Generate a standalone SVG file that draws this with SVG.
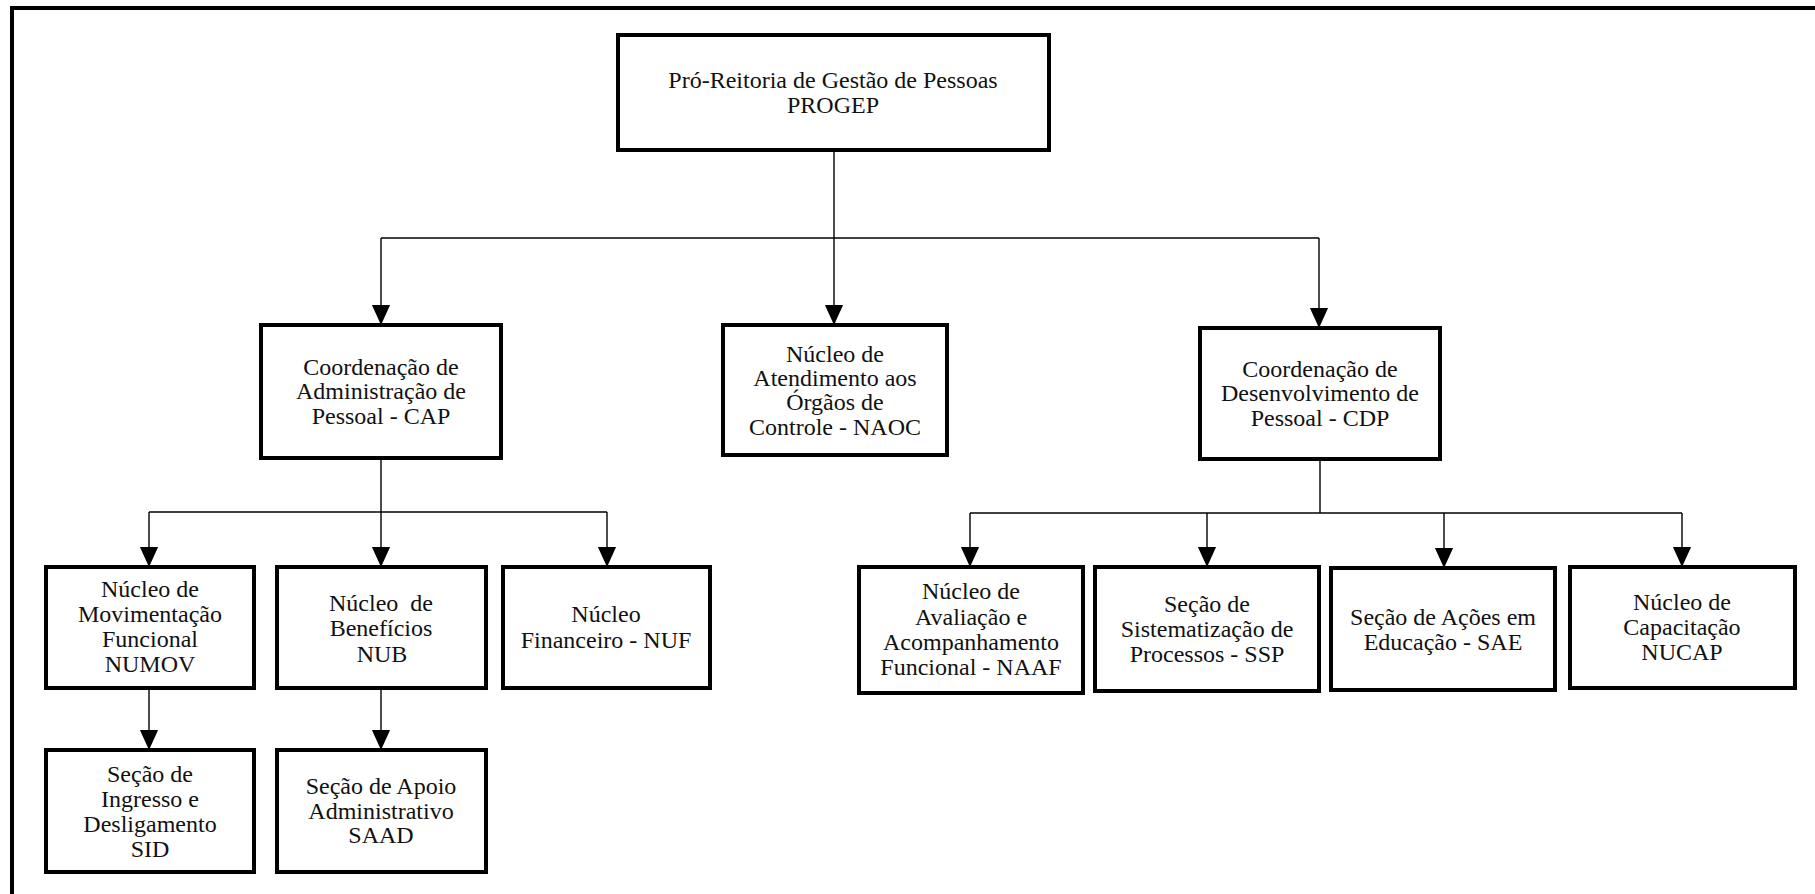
<svg xmlns="http://www.w3.org/2000/svg" width="1815" height="894" viewBox="0 0 1815 894">
<defs>
<marker id="arr" markerUnits="userSpaceOnUse" markerWidth="20" markerHeight="22" refX="22" refY="10" orient="auto" viewBox="0 0 22 20">
<path d="M0,0 L22,10 L0,20 Z" fill="#000"/>
</marker>
<style>
.box{fill:#fff;stroke:#000;stroke-width:4}
.t{font-family:'Liberation Serif','DejaVu Serif',serif;font-size:24px;fill:#111;text-anchor:middle}
.c{fill:none;stroke:#000;stroke-width:1.4}
.frame{stroke:#000;stroke-width:4;fill:none}
</style>
</defs>
<rect width="1815" height="894" fill="#fff"/>
<path class="frame" d="M12,894 L12,8 L1815,8"/>

<g id="connectors">
<path class="c" d="M834,150 L834,238"/>
<path class="c" d="M381,238 L1319,238"/>
<path class="c" d="M381,238 L381,325" marker-end="url(#arr)"/>
<path class="c" d="M834,238 L834,325" marker-end="url(#arr)"/>
<path class="c" d="M1319,238 L1319,328" marker-end="url(#arr)"/>
<path class="c" d="M381,458 L381,512"/>
<path class="c" d="M149,512 L607,512"/>
<path class="c" d="M149,512 L149,567" marker-end="url(#arr)"/>
<path class="c" d="M381,512 L381,567" marker-end="url(#arr)"/>
<path class="c" d="M607,512 L607,567" marker-end="url(#arr)"/>
<path class="c" d="M1320,459 L1320,513"/>
<path class="c" d="M970,513 L1682,513"/>
<path class="c" d="M970,513 L970,567" marker-end="url(#arr)"/>
<path class="c" d="M1207,513 L1207,567" marker-end="url(#arr)"/>
<path class="c" d="M1444,513 L1444,568" marker-end="url(#arr)"/>
<path class="c" d="M1682,513 L1682,567" marker-end="url(#arr)"/>
<path class="c" d="M149,688 L149,750" marker-end="url(#arr)"/>
<path class="c" d="M381,688 L381,750" marker-end="url(#arr)"/>
</g>

<g font-family="'Liberation Serif', 'DejaVu Serif', serif">
<g id="progep">
<rect class="box" x="618" y="35" width="431" height="115"/>
<text class="t" x="833" y="88">Pró-Reitoria de Gestão de Pessoas</text>
<text class="t" x="833" y="113">PROGEP</text>
</g>

<g id="cap">
<rect class="box" x="261" y="325" width="240" height="133"/>
<text class="t" x="381" y="375">Coordenação de</text>
<text class="t" x="381" y="399">Administração de</text>
<text class="t" x="381" y="424">Pessoal - CAP</text>
</g>

<g id="naoc">
<rect class="box" x="723" y="325" width="224" height="130"/>
<text class="t" x="835" y="362">Núcleo de</text>
<text class="t" x="835" y="386">Atendimento aos</text>
<text class="t" x="835" y="410">Órgãos de</text>
<text class="t" x="835" y="435">Controle - NAOC</text>
</g>

<g id="cdp">
<rect class="box" x="1200" y="328" width="240" height="131"/>
<text class="t" x="1320" y="377">Coordenação de</text>
<text class="t" x="1320" y="401">Desenvolvimento de</text>
<text class="t" x="1320" y="426">Pessoal - CDP</text>
</g>

<g id="numov">
<rect class="box" x="46" y="567" width="208" height="121"/>
<text class="t" x="150" y="597">Núcleo de</text>
<text class="t" x="150" y="622">Movimentação</text>
<text class="t" x="150" y="647">Funcional</text>
<text class="t" x="150" y="672">NUMOV</text>
</g>

<g id="nub">
<rect class="box" x="277" y="567" width="209" height="121"/>
<text class="t" x="381" y="611" xml:space="preserve">Núcleo  de</text>
<text class="t" x="381" y="636">Benefícios</text>
<text class="t" x="382" y="662">NUB</text>
</g>

<g id="nuf">
<rect class="box" x="503" y="567" width="207" height="121"/>
<text class="t" x="606" y="622">Núcleo</text>
<text class="t" x="606" y="648">Financeiro - NUF</text>
</g>

<g id="sid">
<rect class="box" x="46" y="750" width="208" height="122"/>
<text class="t" x="150" y="782">Seção de</text>
<text class="t" x="150" y="807">Ingresso e</text>
<text class="t" x="150" y="832">Desligamento</text>
<text class="t" x="150" y="857">SID</text>
</g>

<g id="saad">
<rect class="box" x="277" y="750" width="209" height="122"/>
<text class="t" x="381" y="794">Seção de Apoio</text>
<text class="t" x="381" y="819">Administrativo</text>
<text class="t" x="381" y="843">SAAD</text>
</g>

<g id="naaf">
<rect class="box" x="859" y="567" width="224" height="126"/>
<text class="t" x="971" y="599">Núcleo de</text>
<text class="t" x="971" y="625">Avaliação e</text>
<text class="t" x="971" y="650">Acompanhamento</text>
<text class="t" x="971" y="675">Funcional - NAAF</text>
</g>

<g id="ssp">
<rect class="box" x="1095" y="567" width="224" height="124"/>
<text class="t" x="1207" y="612">Seção de</text>
<text class="t" x="1207" y="637">Sistematização de</text>
<text class="t" x="1207" y="662">Processos - SSP</text>
</g>

<g id="sae">
<rect class="box" x="1331" y="568" width="224" height="122"/>
<text class="t" x="1443" y="625">Seção de Ações em</text>
<text class="t" x="1443" y="650">Educação - SAE</text>
</g>

<g id="nucap">
<rect class="box" x="1570" y="567" width="225" height="121"/>
<text class="t" x="1682" y="610">Núcleo de</text>
<text class="t" x="1682" y="635">Capacitação</text>
<text class="t" x="1682" y="660">NUCAP</text>
</g>
</g>
</svg>
